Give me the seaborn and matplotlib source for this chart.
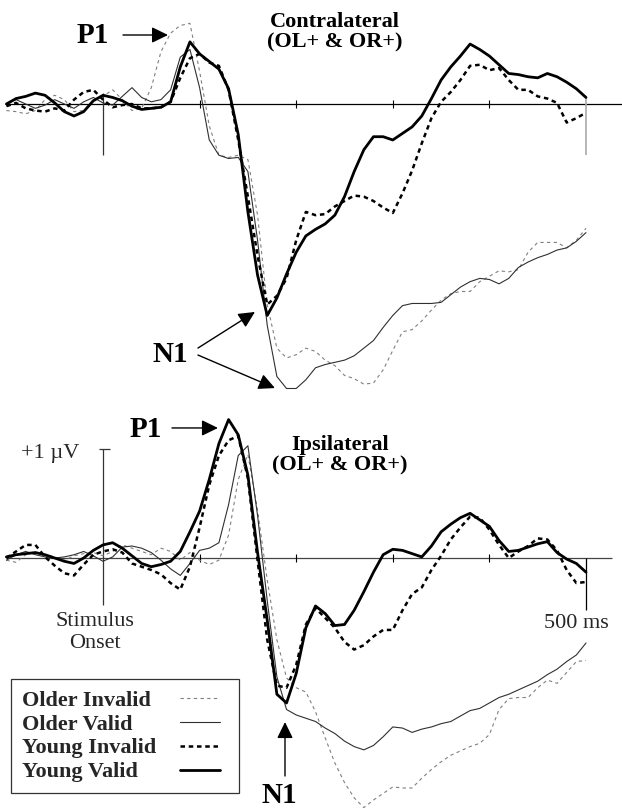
import numpy as np
import pandas as pd
import matplotlib
matplotlib.use("Agg")
import matplotlib.pyplot as plt
import seaborn as sns

# ---------------- data (µV, sampled every 10 ms from -100 to 500 ms) ----------------
time_ms = list(range(-100, 501, 10))

series_names = ["Older Invalid", "Older Valid", "Young Invalid", "Young Valid"]

# Contralateral panel
contra_older_invalid = [-0.06, -0.07, -0.09, -0.06, 0.04, 0.08, 0.04, -0.07, -0.06, 0.04,
                        0.07, 0.13, 0.04, -0.06, -0.04, 0.15, 0.48, 0.65, 0.72, 0.74,
                        0.30, -0.20, -0.47, -0.49, -0.47, -0.51, -1.02, -1.84, -2.24, -2.33,
                        -2.30, -2.24, -2.27, -2.35, -2.40, -2.49, -2.52, -2.57, -2.56, -2.44,
                        -2.26, -2.09, -2.07, -1.99, -1.89, -1.80, -1.74, -1.72, -1.72, -1.63,
                        -1.58, -1.53, -1.54, -1.52, -1.36, -1.27, -1.27, -1.27, -1.32, -1.25,
                        -1.14]
contra_older_valid = [0.00, 0.04, 0.00, -0.04, -0.01, 0.04, 0.00, -0.04, 0.02, 0.06,
                      0.01, -0.01, 0.07, 0.15, 0.06, 0.02, 0.04, 0.13, 0.43, 0.50,
                      0.15, -0.33, -0.47, -0.50, -0.49, -0.62, -1.25, -2.03, -2.50, -2.61,
                      -2.61, -2.53, -2.42, -2.39, -2.37, -2.35, -2.31, -2.24, -2.17, -2.05,
                      -1.94, -1.85, -1.83, -1.83, -1.83, -1.82, -1.75, -1.68, -1.63, -1.60,
                      -1.61, -1.65, -1.60, -1.50, -1.45, -1.41, -1.38, -1.34, -1.32, -1.26,
                      -1.18]
contra_young_invalid = [-0.02, 0.01, -0.04, -0.06, -0.07, -0.04, -0.06, 0.04, 0.11, 0.13,
                        0.04, -0.03, -0.01, 0.00, -0.04, -0.04, -0.03, 0.02, 0.24, 0.42,
                        0.46, 0.38, 0.35, 0.13, -0.33, -0.85, -1.39, -1.84, -1.76, -1.60,
                        -1.25, -0.99, -1.02, -1.01, -0.94, -0.89, -0.84, -0.85, -0.89, -0.95,
                        -1.00, -0.82, -0.61, -0.36, -0.13, 0.02, 0.11, 0.22, 0.35, 0.36,
                        0.31, 0.33, 0.22, 0.13, 0.13, 0.07, 0.05, 0.01, -0.17, -0.13,
                        -0.08]
contra_young_valid = [0.00, 0.05, 0.07, 0.10, 0.08, 0.01, -0.07, -0.11, -0.07, 0.03,
                      0.08, 0.06, 0.03, -0.02, -0.05, -0.04, -0.03, 0.02, 0.34, 0.57,
                      0.46, 0.39, 0.32, 0.14, -0.28, -0.99, -1.57, -1.94, -1.78, -1.56,
                      -1.36, -1.21, -1.15, -1.10, -1.02, -0.85, -0.62, -0.42, -0.30, -0.30,
                      -0.33, -0.27, -0.21, -0.11, 0.05, 0.22, 0.34, 0.44, 0.55, 0.50,
                      0.44, 0.36, 0.28, 0.27, 0.25, 0.24, 0.28, 0.25, 0.20, 0.14,
                      0.06]

# Ipsilateral panel
ipsi_older_invalid = [-0.02, -0.04, 0.03, 0.05, 0.03, 0.01, -0.02, 0.02, 0.04, 0.05,
                      0.02, 0.06, 0.12, 0.09, 0.06, 0.03, 0.09, 0.06, -0.02, 0.05,
                      -0.02, -0.06, -0.02, 0.21, 0.72, 0.95, 0.44, -0.20, -0.75, -1.10,
                      -1.19, -1.23, -1.41, -1.65, -1.88, -2.06, -2.20, -2.29, -2.22, -2.16,
                      -2.10, -2.11, -2.11, -2.02, -1.94, -1.87, -1.81, -1.77, -1.73, -1.70,
                      -1.62, -1.39, -1.29, -1.28, -1.28, -1.19, -1.12, -1.15, -1.05, -0.95,
                      -0.94]
ipsi_older_valid = [-0.02, 0.03, 0.06, 0.03, 0.01, 0.00, 0.01, 0.03, 0.06, 0.02,
                    -0.03, 0.01, 0.10, 0.11, 0.09, 0.05, -0.02, -0.10, -0.16, -0.05,
                    0.07, 0.09, 0.14, 0.49, 0.94, 1.03, 0.39, -0.39, -1.09, -1.39,
                    -1.44, -1.47, -1.50, -1.56, -1.61, -1.68, -1.73, -1.76, -1.72, -1.64,
                    -1.55, -1.56, -1.60, -1.57, -1.55, -1.52, -1.50, -1.45, -1.40, -1.38,
                    -1.33, -1.28, -1.25, -1.21, -1.17, -1.13, -1.07, -1.02, -0.95, -0.89,
                    -0.78]
ipsi_young_invalid = [0.00, 0.06, 0.12, 0.12, 0.01, -0.07, -0.14, -0.16, -0.06, 0.03,
                      0.06, 0.08, 0.05, -0.05, -0.08, -0.11, -0.15, -0.23, -0.29, -0.08,
                      0.28, 0.67, 0.94, 1.08, 1.12, 0.73, -0.02, -0.75, -1.17, -1.19,
                      -0.98, -0.61, -0.46, -0.55, -0.64, -0.77, -0.84, -0.80, -0.72, -0.66,
                      -0.66, -0.48, -0.33, -0.27, -0.11, 0.02, 0.17, 0.28, 0.38, 0.37,
                      0.26, 0.12, 0.00, 0.06, 0.11, 0.18, 0.17, 0.07, -0.11, -0.23,
                      -0.22]
ipsi_young_valid = [0.01, 0.03, 0.04, 0.05, 0.03, 0.00, -0.03, -0.05, 0.00, 0.07,
                    0.12, 0.14, 0.09, 0.02, -0.05, -0.08, -0.06, -0.03, 0.06, 0.24,
                    0.43, 0.72, 1.05, 1.27, 1.13, 0.76, 0.05, -0.57, -1.25, -1.33,
                    -1.06, -0.64, -0.44, -0.51, -0.62, -0.61, -0.48, -0.31, -0.13, 0.03,
                    0.08, 0.07, 0.04, 0.01, 0.11, 0.24, 0.31, 0.37, 0.41, 0.35,
                    0.29, 0.16, 0.06, 0.07, 0.10, 0.13, 0.15, 0.05, -0.01, -0.05,
                    -0.13]

contra = [contra_older_invalid, contra_older_valid, contra_young_invalid, contra_young_valid]
ipsi = [ipsi_older_invalid, ipsi_older_valid, ipsi_young_invalid, ipsi_young_valid]

# ---------------- styles ----------------
styles = {
    "Older Invalid": dict(color="#808080", lw=0.8, ls=(0, (3, 3))),
    "Older Valid": dict(color="#303030", lw=0.8, ls="-"),
    "Young Invalid": dict(color="black", lw=1.8, ls=(0, (1.8, 1.5))),
    "Young Valid": dict(color="black", lw=2.0, ls="-"),
}

sns.set_style("white")
plt.rcParams["font.family"] = ["Liberation Serif", "DejaVu Serif"]

W, H = 622, 808
fig = plt.figure(figsize=(W / 100, H / 100), dpi=100)
ax_top = fig.add_axes([0, 0.5, 1, 0.5])
ax_bot = fig.add_axes([0, 0.0, 1, 0.5])

# layout: onset at x=103 px, 0.966 px per ms, 109 px per µV
px_ms = 0.966
px_uv = 109.0
xlim = (-103 / px_ms, (W - 103) / px_ms)
ax_top.set_xlim(*xlim)
ax_bot.set_xlim(*xlim)
ax_top.set_ylim((104 - 404) / px_uv, 104 / px_uv)
ax_bot.set_ylim((558 - 808) / px_uv, (558 - 404) / px_uv)


def draw(ax, curves, with_label):
    for name, vals in zip(series_names, curves):
        df = pd.DataFrame({"t": time_ms, "v": vals})
        st = styles[name]
        sns.lineplot(data=df, x="t", y="v", ax=ax, color=st["color"], lw=st["lw"],
                     ls=st["ls"], label=name if with_label else None, legend=False,
                     zorder=3)


draw(ax_top, contra, False)
draw(ax_bot, ipsi, True)

for ax in (ax_top, ax_bot):
    ax.axis("off")

# axes decorations
tick = 4 / px_uv
ax_top.hlines(0, -100, xlim[1], color="black", lw=0.9, zorder=2)
ax_top.vlines([100, 200, 300, 400], -tick, tick, color="black", lw=0.8)
ax_top.vlines(0, -0.47, 0.10, color="#333333", lw=0.9)
ax_top.vlines(500, -0.47, 0.06, color="#aaaaaa", lw=1.2)

ax_bot.hlines(0, -100, 527, color="#444444", lw=0.9, zorder=2)
ax_bot.vlines([100, 200, 300, 400], -tick, tick, color="black", lw=0.8)
ax_bot.vlines(0, -0.43, 1.0, color="#333333", lw=0.9)
ax_bot.hlines(1.0, -4, 7, color="#333333", lw=0.9)
ax_bot.vlines(500, -0.48, 0.0, color="black", lw=0.9)

bold = dict(fontweight="bold", color="black")
arrow = dict(arrowstyle="-|>,head_length=0.45,head_width=0.22", color="black",
             lw=1.0, mutation_scale=22, shrinkA=0, shrinkB=0)

# top panel annotations
ax_top.text(-10.4, 0.56, "P1", fontsize=21, ha="center", va="baseline", **bold)
ax_top.annotate("", xy=(67.3, 0.633), xytext=(20.7, 0.633), arrowprops=arrow)
ax_top.text(240.2, 0.706, "Contralateral", fontsize=16, ha="center", va="baseline", **bold)
ax_top.text(240.2, 0.523, "(OL+ & OR+)", fontsize=16, ha="center", va="baseline", **bold)
ax_top.text(69.4, -2.367, "N1", fontsize=21, ha="center", va="baseline", **bold)
ax_top.annotate("", xy=(157.3, -1.908), xytext=(98.3, -2.239), arrowprops=arrow)
ax_top.annotate("", xy=(178.0, -2.606), xytext=(98.3, -2.303), arrowprops=arrow)

# bottom panel annotations
ax_bot.text(44.5, 1.11, "P1", fontsize=21, ha="center", va="baseline", **bold)
ax_bot.annotate("", xy=(119.0, 1.193), xytext=(71.4, 1.193), arrowprops=arrow)
ax_bot.text(245.3, 0.991, "Ipsilateral", fontsize=16, ha="center", va="baseline", **bold)
ax_bot.text(245.3, 0.807, "(OL+ & OR+)", fontsize=16, ha="center", va="baseline", **bold)
ax_bot.text(-54.9, 0.917, "+1 µV", fontsize=16, ha="center", va="baseline")
ax_bot.text(-8.3, -0.624, "Stimulus", fontsize=16, ha="center", va="baseline")
ax_bot.text(-8.3, -0.826, "Onset", fontsize=16, ha="center", va="baseline")
ax_bot.text(489.6, -0.642, "500 ms", fontsize=16, ha="center", va="baseline")
ax_bot.text(182.7, -2.245, "N1", fontsize=21, ha="center", va="baseline", **bold)
ax_bot.annotate("", xy=(188.4, -1.505), xytext=(188.4, -2.0), arrowprops=arrow)

# legend: labels left-aligned in a framed box, line samples in a column at the right
handles, labels = ax_bot.get_legend_handles_labels()
leg_prop = dict(family="Liberation Serif", weight="bold", size=16)
top_y = 1 - 679 / H
leg_text = ax_bot.legend(handles, labels, loc="upper left",
                         bbox_to_anchor=(11 / W, top_y, 228 / W, 0),
                         bbox_transform=fig.transFigure, mode="expand",
                         borderaxespad=0, frameon=True, fancybox=False,
                         framealpha=1, edgecolor="#333333", borderpad=0.5,
                         labelspacing=0.15, handlelength=0, handletextpad=0,
                         prop=leg_prop)
leg_text.get_frame().set_linewidth(0.9)
for h in leg_text.legend_handles:
    h.set_visible(False)
ax_bot.add_artist(leg_text)

leg_lines = ax_bot.legend(handles, [""] * len(handles), loc="upper left",
                          bbox_to_anchor=(169 / W, top_y),
                          bbox_transform=fig.transFigure, borderaxespad=0,
                          frameon=False, borderpad=0.5, labelspacing=0.15,
                          handlelength=1.8, handletextpad=0, prop=leg_prop)

fig.savefig("out.png", dpi=100)
